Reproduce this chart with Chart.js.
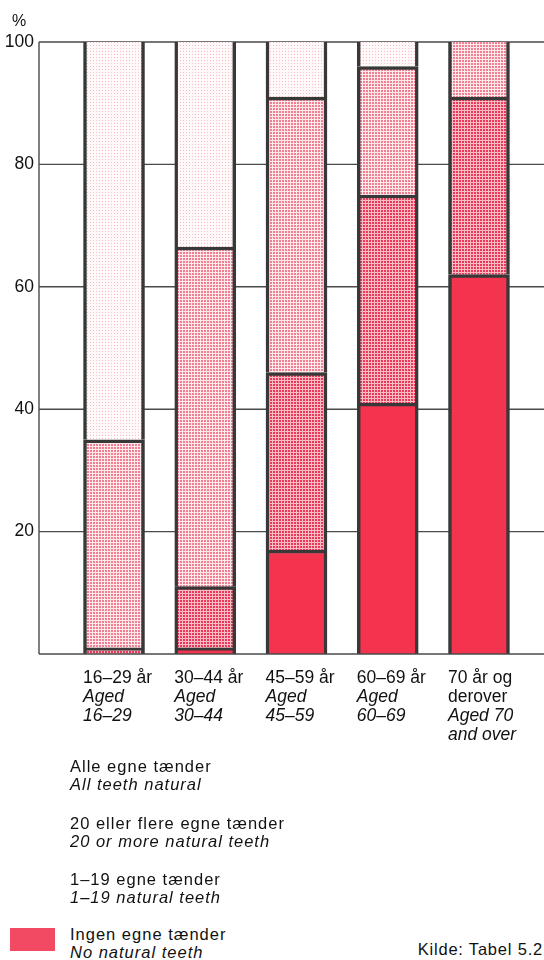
<!DOCTYPE html>
<html>
<head>
<meta charset="utf-8">
<script src="https://cdn.jsdelivr.net/npm/chart.js@4"></script>
<style>
html,body{margin:0;padding:0;background:#fff;width:544px;height:960px;overflow:hidden;}
#wrap{position:relative;width:544px;height:960px;font-family:"Liberation Sans",Arial,Helvetica,sans-serif;color:#111;}
#c{position:absolute;left:0;top:0;}
.pct{position:absolute;left:12px;top:12px;font-size:16px;line-height:18px;}
.leg{position:absolute;left:70px;font-size:16.5px;letter-spacing:1px;line-height:18px;white-space:nowrap;}
.leg i{display:block;}
.sw{position:absolute;left:10px;top:928px;width:45px;height:23px;background:#f24a63;}
.src{position:absolute;right:1px;top:940px;font-size:16.5px;letter-spacing:0.8px;line-height:18px;}
</style>
</head>
<body>
<div id="wrap">
  <canvas id="c" width="544" height="760"></canvas>
  <div class="pct">%</div>
  <div class="leg" style="top:757px">Alle egne tænder<i>All teeth natural</i></div>
  <div class="leg" style="top:814px">20 eller flere egne tænder<i>20 or more natural teeth</i></div>
  <div class="leg" style="top:870px">1–19 egne tænder<i>1–19 natural teeth</i></div>
  <div class="sw"></div>
  <div class="leg" style="top:925px">Ingen egne tænder<i>No natural teeth</i></div>
  <div class="src">Kilde: Tabel 5.2</div>
</div>
<script>
// ---- data ----
const categories = ["16–29 år", "30–44 år", "45–59 år", "60–69 år", "70 år og derover"];
const labelsDa = [["16–29 år"], ["30–44 år"], ["45–59 år"], ["60–69 år"], ["70 år og", "derover"]];
const labelsEn = [["", "Aged", "16–29"], ["", "Aged", "30–44"], ["", "Aged", "45–59"], ["", "Aged", "60–69"], ["", "", "Aged 70", "and over"]];
const seriesNames = ["Ingen egne tænder", "1–19 egne tænder", "20 eller flere egne tænder", "Alle egne tænder"];
const noTeeth     = [0, 1, 17, 41, 62];
const teeth1to19  = [1, 10, 29, 34, 29];
const teeth20plus = [34, 55.5, 45, 21, 9];
const allTeeth    = [65, 33.5, 9, 4, 0];
const yTicks = [0, 20, 40, 60, 80, 100];

// ---- styles ----
const FONT = '"Liberation Sans", Arial, Helvetica, sans-serif';
Chart.defaults.font.family = FONT;
function dotPattern(bg, dot, dotSize) {
  const c = document.createElement('canvas');
  c.width = 3; c.height = 3;
  const g = c.getContext('2d');
  g.fillStyle = bg; g.fillRect(0, 0, 3, 3);
  g.fillStyle = dot; g.fillRect(0, 0, dotSize, dotSize);
  return g.createPattern(c, 'repeat');
}
const fills = [
  '#f4344f',
  dotPattern('#f9bcc5', '#ec3859', 2),
  dotPattern('#ffe9ed', '#f07f92', 2),
  dotPattern('#fff9fa', '#f6c0c9', 1)
];
const seriesData = [noTeeth, teeth1to19, teeth20plus, allTeeth];

function cumTop(ds, i) {
  let s = 0;
  for (let k = 0; k <= ds; k++) s += seriesData[k][i];
  return s;
}

const datasets = seriesData.map((arr, k) => ({
  label: seriesNames[k],
  data: arr,
  backgroundColor: fills[k],
  borderColor: '#383838',
  borderSkipped: false,
  borderWidth: (ctx) => {
    const t = cumTop(ctx.datasetIndex, ctx.dataIndex);
    return { left: 3.5, right: 3.5, bottom: 0, top: t >= 99.9 ? 0 : 3.5 };
  },
  barThickness: 61,
  xAxisID: 'x',
  yAxisID: 'y'
}));

const LINE = '#4a4a4a';
const FRAME_LEFT = 39;
const frameLines = {
  id: 'frameLines',
  beforeDatasetsDraw(chart) {
    const y = chart.scales.y, ctx = chart.ctx;
    ctx.save();
    ctx.strokeStyle = LINE; ctx.lineWidth = 1.4;
    ctx.beginPath();
    yTicks.forEach(v => {
      if (v === 0) return;
      const py = y.getPixelForValue(v);
      ctx.moveTo(FRAME_LEFT, py); ctx.lineTo(chart.width, py);
    });
    ctx.moveTo(FRAME_LEFT, y.getPixelForValue(100));
    ctx.lineTo(FRAME_LEFT, y.getPixelForValue(0));
    ctx.stroke();
    ctx.restore();
  },
  afterDatasetsDraw(chart) {
    const y = chart.scales.y, ctx = chart.ctx;
    const py = y.getPixelForValue(0);
    ctx.save();
    ctx.strokeStyle = LINE; ctx.lineWidth = 1.6;
    ctx.beginPath(); ctx.moveTo(FRAME_LEFT, py); ctx.lineTo(chart.width, py); ctx.stroke();
    ctx.restore();
  }
};

function xAxis(labels, italic) {
  return {
    type: 'category',
    offset: true,
    stacked: true,
    position: 'bottom',
    grid: { display: false, drawTicks: false, offset: true },
    border: { display: false },
    afterFit: (s) => { s.height = 0; s.paddingLeft = 0; s.paddingRight = 0; },
    ticks: {
      autoSkip: false, maxRotation: 0, minRotation: 0,
      align: 'start', labelOffset: -31,
      mirror: true, padding: -34,
      color: '#111',
      font: { family: FONT, size: 17.5, style: italic ? 'italic' : 'normal', lineHeight: 1.086 },
      callback: (v, i) => labels[i]
    }
  };
}

new Chart(document.getElementById('c'), {
  type: 'bar',
  data: { labels: categories, datasets },
  options: {
    responsive: false,
    devicePixelRatio: 1,
    animation: false,
    layout: { padding: { top: 42, left: 0, right: 19.4, bottom: 106 } },
    plugins: { legend: { display: false }, tooltip: { enabled: false } },
    scales: {
      x: xAxis(labelsDa, false),
      x2: xAxis(labelsEn, true),
      y: {
        stacked: true,
        min: 0, max: 100,
        position: 'left',
        afterBuildTicks: (s) => { s.ticks = yTicks.map(v => ({ value: v })); },
        afterFit: (s) => { s.width = 68.4; s.paddingTop = 0; s.paddingBottom = 0; },
        grid: { display: false, drawTicks: false },
        border: { display: false },
        ticks: {
          padding: 34.5,
          color: '#111',
          font: { family: FONT, size: 17.5 },
          callback: (v) => (v === 0 ? '' : String(v))
        }
      }
    }
  },
  plugins: [frameLines]
});
</script>
</body>
</html>
